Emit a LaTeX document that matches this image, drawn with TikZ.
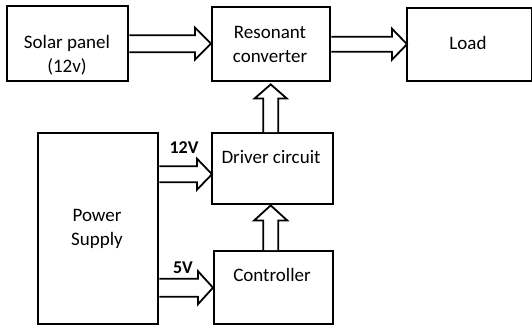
\documentclass[tikz,border=0pt]{standalone}
\usepackage{fontspec}
\setmainfont{Carlito}
\usetikzlibrary{calc}
\tikzset{
  box/.style={draw, line width=2.4pt, rectangle, inner sep=0pt, anchor=north west},
  txt/.style={font=\fontsize{19}{24}\selectfont, align=center, inner sep=0pt},
  vlabel/.style={font=\fontsize{18}{22}\selectfont\bfseries, inner sep=0pt},
  fat/.style={draw, line width=1.8pt, fill=white, line join=miter}
}
% horizontal fat arrow: #1 source (x), #2 tip (x,y), #3 shaft half, #4 head half, #5 head length
\newcommand{\hfat}[5]{\draw[fat] let \p1=(#1), \p2=(#2) in
  (\x1,\y2+#3) -- (\x2-#5,\y2+#3) -- (\x2-#5,\y2+#4) -- (\x2,\y2) -- (\x2-#5,\y2-#4) -- (\x2-#5,\y2-#3) -- (\x1,\y2-#3);}
% vertical (upward) fat arrow: #1 source (y), #2 tip (x,y)
\newcommand{\vfat}[5]{\draw[fat] let \p1=(#1), \p2=(#2) in
  (\x2-#3,\y1) -- (\x2-#3,\y2-#5) -- (\x2-#4,\y2-#5) -- (\x2,\y2) -- (\x2+#4,\y2-#5) -- (\x2+#3,\y2-#5) -- (\x2+#3,\y1);}
\begin{document}
\begin{tikzpicture}[x=1pt,y=-1pt]
\useasboundingbox (0,0) rectangle (532,327);
\node[box, minimum width=121pt, minimum height=75pt] (solar) at (6,5) {};
\node[box, minimum width=118pt, minimum height=74pt] (reson) at (211,6) {};
\node[box, minimum width=125pt, minimum height=73pt] (load) at (406,7) {};
\node[box, minimum width=121pt, minimum height=71pt] (driver) at (211,132) {};
\node[box, minimum width=120pt, minimum height=191pt] (power) at (37,132) {};
\node[box, minimum width=119pt, minimum height=73pt] (ctrl) at (213,250) {};

\node[txt] (tsolar) at (67,55) {Solar panel\\(12v)};
\node[txt] (treson) at (270,44) {Resonant\\converter};
\node[txt] (tload) at (468,43) {Load};
\node[txt] (tdriver) at (271,157) {Driver circuit};
\node[txt] (tpower) at (97,229) {Power\\Supply};
\node[txt] (tctrl) at (272,275) {Controller};

\node[vlabel] (l12) at (184,148) {12V};
\node[vlabel] (l5) at (183,268) {5V};

\hfat{solar.east}{reson.west |- solar.east}{8.5}{16}{16}
\hfat{reson.east}{$(load.west |- reson.east)+(1,0)$}{7.5}{15.5}{15}
\hfat{power.east}{$(driver.west)+(1,5.5)$}{8}{15.5}{15}
\hfat{power.east}{$(ctrl.west)+(0,0)$}{9}{16.5}{15}
\vfat{ctrl.north}{$(driver.south)+(-2,0)$}{7.5}{16.5}{15}
\vfat{driver.north}{$(reson.south)+(-0.5,2)$}{7.5}{16}{14}
\end{tikzpicture}
\end{document}
